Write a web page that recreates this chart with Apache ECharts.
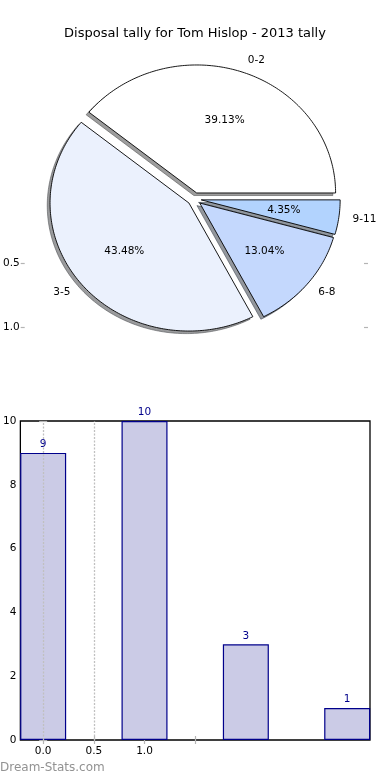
<!DOCTYPE html>
<html><head><meta charset="utf-8">
<script src="https://cdn.jsdelivr.net/npm/echarts@6/dist/echarts.min.js"></script>
<style>html,body{margin:0;padding:0;background:#fff}#c{width:390px;height:780px}</style>
</head><body><div id="c"></div>
<script>
const titleText = 'Disposal tally for Tom Hislop - 2013 tally';
const categories = ['0-2', '3-5', '6-8', '9-11'];
const values = [9, 10, 3, 1];
const sliceColors = ['#ffffff', '#ebf1fd', '#c4d8fd', '#b2d3fe'];
const pieAxisTicks = [0.5, 1.0];
const barPositions = [0, 1, 2, 3];
const xTickValues = [0, 0.5, 1.0, 1.5];
const xTickLabels = [0, 0.5, 1.0];
const xGridLines = [0, 0.5];

const FONT = 'DejaVu Sans';
const FS = 10.5;
const total = values.reduce((a, b) => a + b, 0);
const EXPLODE = 0.05, SH = -0.02;
const TICK = { color: '#b4b4b4', width: 1.2 };

function wedgeGeom(i) {
  let start = 0;
  for (let k = 0; k < i; k++) start += values[k] / total * 360;
  const end = start + values[i] / total * 360;
  const mid = (start + end) / 2 * Math.PI / 180;
  return { start, end, mid, cx: EXPLODE * Math.cos(mid), cy: EXPLODE * Math.sin(mid) };
}
function wedgePoints(api, g, dx, dy) {
  const pts = [api.coord([g.cx + dx, g.cy + dy])];
  const n = Math.max(4, Math.ceil(g.end - g.start));
  for (let j = 0; j <= n; j++) {
    const a = (g.start + (g.end - g.start) * j / n) * Math.PI / 180;
    pts.push(api.coord([g.cx + dx + Math.cos(a), g.cy + dy + Math.sin(a)]));
  }
  return pts;
}
function shadowColor(hex) {
  const r = parseInt(hex.slice(1, 3), 16), g = parseInt(hex.slice(3, 5), 16), b = parseInt(hex.slice(5, 7), 16);
  return 'rgba(' + Math.round(r * 0.3) + ',' + Math.round(g * 0.3) + ',' + Math.round(b * 0.3) + ',0.55)';
}
const pieData = categories.map((c, i) => ({ name: c, value: [i, values[i]] }));

const chart = echarts.init(document.getElementById('c'), null, { renderer: 'canvas' });
chart.setOption({
  animation: false,
  backgroundColor: '#fff',
  textStyle: { fontFamily: FONT },
  title: {
    text: titleText, left: 'center', top: 22,
    textStyle: { fontFamily: FONT, fontSize: 13, fontWeight: 'normal', color: '#000' }
  },
  graphic: [{
    type: 'text', left: 0, top: 762,
    style: { text: 'Dream-Stats.com', fontFamily: FONT, fontSize: 12, fill: '#929292' }
  }],
  grid: [
    { left: 18, right: 22, top: 39, height: 320 },
    { left: 19, right: 20, top: 421, bottom: 40, show: true, borderColor: '#000', borderWidth: 1.3 }
  ],
  xAxis: [
    { gridIndex: 0, type: 'value', min: -1.25, max: 1.25, show: false },
    {
      gridIndex: 1, type: 'value', min: -0.225, max: 3.225, position: 'bottom',
      axisLine: { show: false }, splitLine: { show: false },
      axisTick: { customValues: xTickValues, inside: true, length: 4, lineStyle: TICK },
      axisLabel: { customValues: xTickLabels, formatter: v => v.toFixed(1), margin: 6, color: '#000', fontFamily: FONT, fontSize: FS }
    },
    {
      gridIndex: 1, type: 'value', min: -0.225, max: 3.225, position: 'top',
      axisLine: { show: false }, splitLine: { show: false },
      axisTick: { customValues: xTickValues, inside: true, length: 4, lineStyle: TICK },
      axisLabel: { show: false }
    }
  ],
  yAxis: [
    { gridIndex: 0, type: 'value', min: -1.25, max: 1.25, show: false },
    {
      gridIndex: 0, type: 'value', inverse: true, min: -1.25, max: 1.25, position: 'left',
      axisLine: { show: false }, splitLine: { show: false },
      axisTick: { customValues: pieAxisTicks, inside: true, length: 4, lineStyle: TICK },
      axisLabel: { customValues: pieAxisTicks, formatter: v => v.toFixed(1), margin: 1, color: '#000', fontFamily: FONT, fontSize: FS }
    },
    {
      gridIndex: 0, type: 'value', inverse: true, min: -1.25, max: 1.25, position: 'right',
      axisLine: { show: false }, splitLine: { show: false },
      axisTick: { customValues: pieAxisTicks, inside: true, length: 4, lineStyle: TICK },
      axisLabel: { show: false }
    },
    {
      gridIndex: 1, type: 'value', min: 0, max: 10, interval: 2, position: 'left',
      axisLine: { show: false }, splitLine: { show: false },
      axisTick: { inside: true, length: 4, lineStyle: TICK },
      axisLabel: { margin: 4, color: '#000', fontFamily: FONT, fontSize: FS }
    },
    {
      gridIndex: 1, type: 'value', min: 0, max: 10, interval: 2, position: 'right',
      axisLine: { show: false }, splitLine: { show: false },
      axisTick: { inside: true, length: 4, lineStyle: TICK },
      axisLabel: { show: false }
    }
  ],
  series: [
    {
      type: 'custom', xAxisIndex: 0, yAxisIndex: 0, z: 1, silent: true,
      data: pieData,
      renderItem: function (params, api) {
        const i = api.value(0);
        const g = wedgeGeom(i);
        return {
          type: 'polygon',
          shape: { points: wedgePoints(api, g, SH, SH) },
          style: { fill: shadowColor(sliceColors[i]), stroke: shadowColor(sliceColors[i]), lineWidth: 1 }
        };
      }
    },
    {
      type: 'custom', xAxisIndex: 0, yAxisIndex: 0, z: 2, silent: true,
      data: pieData,
      renderItem: function (params, api) {
        const i = api.value(0);
        const g = wedgeGeom(i);
        const pctPos = api.coord([g.cx + 0.6 * Math.cos(g.mid), g.cy + 0.6 * Math.sin(g.mid)]);
        const lx = g.cx + 1.1 * Math.cos(g.mid);
        const labPos = api.coord([lx, g.cy + 1.1 * Math.sin(g.mid)]);
        return {
          type: 'group',
          children: [
            {
              type: 'polygon',
              shape: { points: wedgePoints(api, g, 0, 0) },
              style: { fill: sliceColors[i], stroke: '#000', lineWidth: 0.9 }
            },
            {
              type: 'text', x: pctPos[0], y: pctPos[1],
              style: {
                text: (api.value(1) / total * 100).toFixed(2) + '%',
                fill: '#000', fontFamily: FONT, fontSize: FS, align: 'center', verticalAlign: 'middle'
              }
            },
            {
              type: 'text', x: labPos[0], y: labPos[1],
              style: {
                text: categories[i], fill: '#000', fontFamily: FONT, fontSize: FS,
                align: lx > 0 ? 'left' : 'right', verticalAlign: 'middle'
              }
            }
          ]
        };
      }
    },
    {
      type: 'bar', xAxisIndex: 1, yAxisIndex: 3,
      data: barPositions.map((x, i) => [x, values[i]]),
      barWidth: 46,
      itemStyle: { color: '#cbcbe6', borderColor: '#00008b', borderWidth: 1.2 },
      label: { show: true, position: 'top', distance: 3, color: '#00008b', fontFamily: FONT, fontSize: FS },
      markLine: {
        silent: true, symbol: 'none', label: { show: false },
        lineStyle: { type: [2, 1.5], color: '#c0c0c0', width: 1.3 },
        data: xGridLines.map(v => ({ xAxis: v }))
      }
    }
  ]
});
</script>
</body></html>
